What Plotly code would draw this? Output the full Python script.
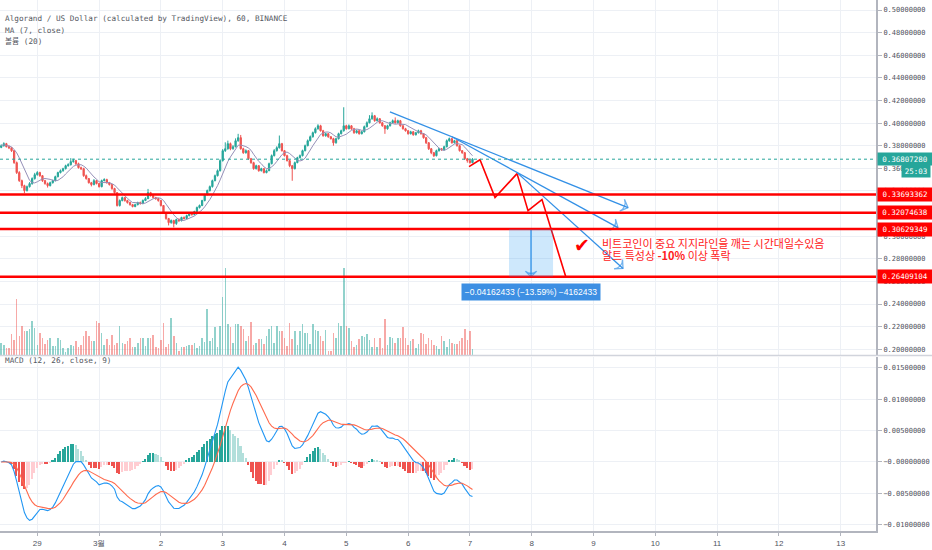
import numpy as np
import pandas as pd
import plotly.graph_objects as go

# ALGO/USD 60분봉 (Binance) - 차트에서 읽은 값
start = '2020-02-28 10:00'
first_open = 0.3785
close = [0.3800, 0.3818, 0.3791, 0.3782, 0.3756, 0.3650, 0.3562, 0.3491, 0.3447, 0.3403, 0.3438, 0.3465,
         0.3509, 0.3544, 0.3562, 0.3535, 0.3491, 0.3465, 0.3447, 0.3473, 0.3491, 0.3526, 0.3562, 0.3579,
         0.3597, 0.3623, 0.3632, 0.3659, 0.3668, 0.3641, 0.3606, 0.3597, 0.3535, 0.3509, 0.3473, 0.3456,
         0.3491, 0.3465, 0.3438, 0.3491, 0.3500, 0.3473, 0.3456, 0.3421, 0.3385, 0.3271, 0.3315, 0.3341,
         0.3315, 0.3297, 0.3279, 0.3262, 0.3279, 0.3297, 0.3288, 0.3315, 0.3332, 0.3385, 0.3359, 0.3341,
         0.3332, 0.3315, 0.3271, 0.3209, 0.3156, 0.3120, 0.3138, 0.3112, 0.3147, 0.3138, 0.3165, 0.3156,
         0.3182, 0.3200, 0.3191, 0.3218, 0.3253, 0.3271, 0.3315, 0.3368, 0.3403, 0.3438, 0.3491, 0.3535,
         0.3579, 0.3668, 0.3756, 0.3773, 0.3818, 0.3773, 0.3791, 0.3844, 0.3871, 0.3773, 0.3738, 0.3756,
         0.3685, 0.3650, 0.3597, 0.3623, 0.3579, 0.3597, 0.3562, 0.3579, 0.3641, 0.3712, 0.3756, 0.3782,
         0.3818, 0.3756, 0.3712, 0.3668, 0.3623, 0.3597, 0.3650, 0.3694, 0.3712, 0.3756, 0.3800, 0.3844,
         0.3879, 0.3915, 0.3950, 0.3976, 0.3932, 0.3888, 0.3906, 0.3879, 0.3862, 0.3826, 0.3862, 0.3906,
         0.3932, 0.3976, 0.3950, 0.3976, 0.3950, 0.3915, 0.3932, 0.3906, 0.3923, 0.3968, 0.4003, 0.4038,
         0.4065, 0.4021, 0.4038, 0.4003, 0.3976, 0.3950, 0.3976, 0.4003, 0.4021, 0.4003, 0.4021, 0.3976,
         0.3950, 0.3932, 0.3906, 0.3923, 0.3897, 0.3915, 0.3932, 0.3906, 0.3871, 0.3826, 0.3773, 0.3738,
         0.3712, 0.3756, 0.3773, 0.3765, 0.3791, 0.3844, 0.3862, 0.3826, 0.3844, 0.3800, 0.3756, 0.3738,
         0.3685, 0.3668, 0.3650, 0.3681]
high = [0.3812, 0.3830, 0.3825, 0.3805, 0.3790, 0.3762, 0.3660, 0.3575, 0.3500, 0.3455, 0.3448, 0.3478,
        0.3520, 0.3560, 0.3575, 0.3570, 0.3540, 0.3498, 0.3475, 0.3482, 0.3500, 0.3535, 0.3570, 0.3590,
        0.3605, 0.3632, 0.3645, 0.3690, 0.3685, 0.3675, 0.3650, 0.3615, 0.3605, 0.3545, 0.3515, 0.3480,
        0.3505, 0.3498, 0.3472, 0.3500, 0.3512, 0.3508, 0.3480, 0.3462, 0.3428, 0.3390, 0.3325, 0.3350,
        0.3348, 0.3322, 0.3305, 0.3285, 0.3288, 0.3305, 0.3306, 0.3325, 0.3345, 0.3418, 0.3392, 0.3365,
        0.3348, 0.3338, 0.3320, 0.3276, 0.3214, 0.3162, 0.3148, 0.3145, 0.3155, 0.3158, 0.3172, 0.3175,
        0.3190, 0.3208, 0.3210, 0.3225, 0.3262, 0.3280, 0.3322, 0.3375, 0.3412, 0.3448, 0.3500, 0.3545,
        0.3590, 0.3680, 0.3770, 0.3830, 0.3845, 0.3828, 0.3805, 0.3865, 0.3905, 0.3895, 0.3782, 0.3768,
        0.3762, 0.3692, 0.3658, 0.3632, 0.3628, 0.3605, 0.3602, 0.3590, 0.3650, 0.3722, 0.3770, 0.3795,
        0.3890, 0.3825, 0.3762, 0.3720, 0.3675, 0.3630, 0.3660, 0.3702, 0.3722, 0.3765, 0.3810, 0.3855,
        0.3890, 0.3925, 0.3962, 0.3990, 0.3985, 0.3940, 0.3915, 0.3912, 0.3885, 0.3870, 0.3870, 0.3915,
        0.3942, 0.4140, 0.3985, 0.3988, 0.3982, 0.3958, 0.3942, 0.3940, 0.3932, 0.3978, 0.4015, 0.4070,
        0.4095, 0.4072, 0.4050, 0.4045, 0.4010, 0.3982, 0.3985, 0.4012, 0.4032, 0.4050, 0.4030, 0.4028,
        0.3982, 0.3958, 0.3938, 0.3932, 0.3930, 0.3922, 0.3942, 0.3940, 0.3912, 0.3878, 0.3832, 0.3780,
        0.3745, 0.3765, 0.3782, 0.3780, 0.3800, 0.3855, 0.3872, 0.3868, 0.3852, 0.3850, 0.3808, 0.3762,
        0.3745, 0.3692, 0.3685, 0.3690]
low = [0.3778, 0.3792, 0.3785, 0.3770, 0.3745, 0.3640, 0.3550, 0.3480, 0.3425, 0.3380, 0.3395, 0.3430,
       0.3455, 0.3500, 0.3535, 0.3525, 0.3480, 0.3455, 0.3430, 0.3440, 0.3465, 0.3485, 0.3520, 0.3555,
       0.3570, 0.3590, 0.3615, 0.3625, 0.3650, 0.3630, 0.3598, 0.3585, 0.3525, 0.3500, 0.3465, 0.3440,
       0.3450, 0.3458, 0.3430, 0.3432, 0.3485, 0.3465, 0.3448, 0.3410, 0.3375, 0.3262, 0.3262, 0.3308,
       0.3305, 0.3288, 0.3270, 0.3255, 0.3256, 0.3272, 0.3280, 0.3283, 0.3310, 0.3328, 0.3350, 0.3332,
       0.3322, 0.3305, 0.3262, 0.3198, 0.3145, 0.3095, 0.3110, 0.3078, 0.3100, 0.3125, 0.3130, 0.3148,
       0.3150, 0.3175, 0.3182, 0.3185, 0.3212, 0.3245, 0.3265, 0.3308, 0.3360, 0.3395, 0.3430, 0.3485,
       0.3528, 0.3572, 0.3660, 0.3745, 0.3765, 0.3760, 0.3765, 0.3785, 0.3835, 0.3765, 0.3728, 0.3730,
       0.3675, 0.3640, 0.3588, 0.3590, 0.3570, 0.3572, 0.3555, 0.3556, 0.3575, 0.3635, 0.3705, 0.3748,
       0.3775, 0.3748, 0.3705, 0.3660, 0.3610, 0.3490, 0.3590, 0.3645, 0.3688, 0.3705, 0.3750, 0.3795,
       0.3838, 0.3872, 0.3908, 0.3942, 0.3925, 0.3880, 0.3880, 0.3870, 0.3855, 0.3800, 0.3818, 0.3855,
       0.3900, 0.3925, 0.3942, 0.3945, 0.3940, 0.3905, 0.3908, 0.3898, 0.3900, 0.3918, 0.3962, 0.3998,
       0.4030, 0.4012, 0.4015, 0.3995, 0.3968, 0.3905, 0.3942, 0.3970, 0.3998, 0.3995, 0.3996, 0.3968,
       0.3942, 0.3925, 0.3898, 0.3900, 0.3888, 0.3890, 0.3908, 0.3898, 0.3862, 0.3815, 0.3762, 0.3725,
       0.3700, 0.3705, 0.3748, 0.3755, 0.3758, 0.3785, 0.3835, 0.3818, 0.3820, 0.3792, 0.3748, 0.3728,
       0.3675, 0.3650, 0.3642, 0.3645]
volume = [37, 30, 22, 22, 62, 44, 167, 57, 87, 72, 72, 77,
          102, 80, 30, 67, 50, 34, 44, 52, 27, 27, 52, 44,
          22, 9, 22, 30, 27, 42, 24, 30, 57, 72, 57, 42,
          42, 102, 97, 67, 30, 47, 30, 60, 30, 37, 87, 37,
          34, 42, 52, 24, 24, 37, 52, 50, 27, 50, 52, 60,
          24, 22, 44, 97, 24, 32, 112, 57, 37, 12, 24, 24,
          27, 30, 30, 37, 20, 27, 50, 40, 137, 42, 52, 84,
          24, 87, 174, 260, 94, 84, 37, 94, 92, 87, 77, 42,
          57, 100, 30, 37, 47, 47, 32, 57, 77, 87, 37, 87,
          72, 72, 52, 27, 97, 47, 72, 30, 72, 92, 67, 67,
          32, 94, 74, 72, 57, 42, 74, 12, 12, 67, 52, 97,
          87, 262, 87, 82, 42, 24, 30, 47, 57, 54, 64, 44,
          24, 50, 24, 50, 22, 107, 30, 54, 52, 37, 52, 52,
          84, 50, 30, 42, 47, 22, 34, 67, 62, 32, 50, 44,
          30, 27, 17, 57, 42, 24, 47, 37, 34, 32, 42, 52,
          77, 44, 72, 17]

# 수평 지지선 / 현재가
levels = [0.33693362, 0.32074638, 0.30629349, 0.26409104]
last_price = 0.36807280
countdown = '25:03'

# 예상 경로 (빨간 지그재그)
zig_t = ['2020-03-06 23:40', '2020-03-07 03:55', '2020-03-07 09:45', '2020-03-07 18:18',
         '2020-03-07 22:34', '2020-03-08 03:59', '2020-03-08 13:19']
zig_p = [0.3615, 0.3676, 0.3341, 0.3553, 0.3226, 0.3324, 0.2635]

# 하락 추세선 (파란 화살표)
trend_lines = [
    (['2020-03-05 16:57', '2020-03-09 13:23'], [0.4100, 0.3253]),
    (['2020-03-06 17:01', '2020-03-09 09:30'], [0.3879, 0.3076]),
    (['2020-03-07 18:17', '2020-03-09 11:27'], [0.3562, 0.2715]),
]

# 가격 범위 측정
measure_t = ['2020-03-07 15:11', '2020-03-08 08:17']
measure_mid = '2020-03-07 23:44'
measure_label = '\u22120.04162433 (\u221213.59%) \u22124162433'

day_ticks = pd.date_range('2020-02-29', '2020-03-13', freq='D')
day_labels = ['29', '3월', '2', '3', '4', '5', '6', '7', '8', '9', '10', '11', '12', '13']
x_range = ['2020-02-28 09:31', '2020-03-13 13:42']

note_line1 = '비트코인이 중요 지지라인을 깨는 시간대일수있음'
note_line2 = '알트 특성상 <b>-10%</b> 이상 폭락'

# 색상
UP = '#26a69a'
DOWN = '#ef5350'
GRID = '#edf0f5'
AXIS = '#b2b5be'
TXT = '#50535e'
BLUE = '#3390e6'
MONO = 'DejaVu Sans Mono, Noto Sans CJK KR'

times = pd.date_range(start, periods=len(close), freq='h')
opens = [first_open] + close[:-1]
up = [c >= o for o, c in zip(opens, close)]

# 지표
s = pd.Series(close)
ma7 = s.rolling(7, min_periods=1).mean()
macd = s.ewm(span=12, adjust=False).mean() - s.ewm(span=26, adjust=False).mean()
signal = macd.ewm(span=9, adjust=False).mean()
hist = (macd - signal).tolist()
hist_colors = []
for i, h in enumerate(hist):
    prev = hist[i - 1] if i > 0 else 0
    if h >= 0:
        hist_colors.append('#26a69a' if h >= prev else '#b2dfdb')
    else:
        hist_colors.append('#ffcdd2' if h >= prev else '#ef5350')

bar_w = 0.6 * 3600 * 1000

fig = go.Figure()

# 볼륨
fig.add_trace(go.Bar(x=times, y=volume, width=bar_w, xaxis='x', yaxis='y3',
                     marker=dict(color=['rgba(38,166,154,0.5)' if u else 'rgba(239,83,80,0.5)' for u in up],
                                 line=dict(width=0))))

# 캔들
fig.add_trace(go.Candlestick(x=times, open=opens, high=high, low=low, close=close,
                             xaxis='x', yaxis='y', whiskerwidth=0,
                             increasing=dict(line=dict(color=UP, width=1), fillcolor=UP),
                             decreasing=dict(line=dict(color=DOWN, width=1), fillcolor=DOWN)))
fig.add_trace(go.Scatter(x=times, y=ma7, mode='lines', xaxis='x', yaxis='y',
                         line=dict(color='#9590b8', width=1)))

# 지그재그 예상 경로
fig.add_trace(go.Scatter(x=zig_t, y=zig_p, mode='lines', xaxis='x', yaxis='y',
                         line=dict(color='#ff0000', width=1.6)))

# 추세선 + 화살표
for tx, py in trend_lines:
    fig.add_trace(go.Scatter(x=tx, y=py, mode='lines+markers', xaxis='x', yaxis='y',
                             line=dict(color=BLUE, width=1.3),
                             marker=dict(symbol='arrow-wide-open', size=[0, 9], angleref='previous',
                                         color=BLUE, line=dict(color=BLUE, width=1.3))))

# 측정 화살표
fig.add_trace(go.Scatter(x=[measure_mid, measure_mid], y=[levels[2], levels[3]], mode='lines+markers',
                         xaxis='x', yaxis='y', line=dict(color=BLUE, width=1.3),
                         marker=dict(symbol='arrow-wide-open', size=[0, 8], angleref='previous',
                                     color=BLUE, line=dict(color=BLUE, width=1.3))))

# MACD
fig.add_trace(go.Bar(x=times, y=hist, width=bar_w, xaxis='x2', yaxis='y2',
                     marker=dict(color=hist_colors, line=dict(width=0))))
fig.add_trace(go.Scatter(x=times, y=macd, mode='lines', xaxis='x2', yaxis='y2',
                         line=dict(color='#2196f3', width=1.1)))
fig.add_trace(go.Scatter(x=times, y=signal, mode='lines', xaxis='x2', yaxis='y2',
                         line=dict(color='#ff6a4d', width=1.1)))

# 수평선
for lv in levels:
    fig.add_shape(type='line', xref='paper', x0=0, x1=1, yref='y', y0=lv, y1=lv,
                  line=dict(color='#ff0000', width=2.5))
    fig.add_annotation(xref='paper', x=1, xanchor='left', xshift=1, yref='y', y=lv,
                       text=f'{lv:.8f}', showarrow=False, bgcolor='#ff0000', width=52, height=11,
                       borderpad=1, font=dict(family=MONO, size=7.5, color='white'))

fig.add_shape(type='line', xref='paper', x0=0, x1=1, yref='y', y0=last_price, y1=last_price,
              line=dict(color=UP, width=1, dash='dot'))
fig.add_annotation(xref='paper', x=1, xanchor='left', xshift=1, yref='y', y=last_price,
                   text=f'{last_price:.8f}', showarrow=False, bgcolor=UP, width=52, height=10,
                   borderpad=1, font=dict(family=MONO, size=7.5, color='white'))
fig.add_annotation(xref='paper', x=1, xanchor='left', xshift=25, yref='y', y=last_price, yshift=-12,
                   text=countdown, showarrow=False, bgcolor=UP, width=26, height=10,
                   borderpad=1, font=dict(family=MONO, size=7.5, color='white'))

# 측정 박스
fig.add_shape(type='rect', xref='x', yref='y', x0=measure_t[0], x1=measure_t[1],
              y0=levels[3], y1=levels[2], fillcolor='rgba(33,150,243,0.22)', line=dict(width=0))
fig.add_annotation(xref='x', yref='y', x=measure_mid, y=levels[3], yshift=-15, showarrow=False,
                   text=measure_label, bgcolor='#3d8fe3', width=136, height=14, borderpad=1,
                   font=dict(family='Liberation Sans', size=8.5, color='white'))

# 메모
fig.add_annotation(xref='x', yref='y', x='2020-03-08 19:30', y=0.2926, showarrow=False,
                   text='✔', font=dict(family='DejaVu Sans', size=19, color='#ff0000'))
fig.add_annotation(xref='x', yref='y', x='2020-03-09 02:31', y=0.2937, xanchor='left', showarrow=False,
                   text=note_line1, font=dict(family='Noto Sans CJK KR', size=11, color='#ff2020'))
fig.add_annotation(xref='x', yref='y', x='2020-03-09 02:31', y=0.2831, xanchor='left', showarrow=False,
                   text=note_line2, font=dict(family='Noto Sans CJK KR', size=11, color='#ff2020'))

# 범례 텍스트
legend_lines = ['Algorand / US Dollar (calculated by TradingView), 60, BINANCE', 'MA (7, close)', '볼륨 (20)']
for k, t in enumerate(legend_lines):
    fig.add_annotation(xref='paper', yref='paper', x=0, y=1 - (12 + 11.5 * k) / 531, xanchor='left',
                       xshift=3, showarrow=False, text=t,
                       font=dict(family=MONO, size=7.7, color='#555861'))
fig.add_annotation(xref='paper', yref='paper', x=0, y=(531 - 367) / 531, xanchor='left', xshift=3,
                   showarrow=False, text='MACD (12, 26, close, 9)',
                   font=dict(family=MONO, size=7.7, color='#555861'))

# 패널 구분선
fig.add_shape(type='line', xref='paper', yref='paper', x0=0, x1=1.064, y0=0.3305, y1=0.3305,
              line=dict(color='#d1d4dc', width=1.5))

fig.update_layout(
    width=932, height=550,
    margin=dict(l=0, r=56, t=0, b=19),
    paper_bgcolor='white', plot_bgcolor='white',
    showlegend=False,
    bargap=0,
    xaxis=dict(domain=[0, 1], anchor='y', type='date', range=x_range, tickvals=day_ticks,
               ticktext=day_labels, showticklabels=False, showgrid=True, gridcolor=GRID,
               zeroline=False, rangeslider=dict(visible=False)),
    xaxis2=dict(domain=[0, 1], anchor='y2', type='date', range=x_range, matches='x', tickvals=day_ticks,
                ticktext=day_labels, showgrid=True, gridcolor=GRID, zeroline=False,
                showline=True, linecolor=AXIS, linewidth=2, ticks='outside', ticklen=3, tickcolor=AXIS,
                tickfont=dict(family='Liberation Sans', size=8, color=TXT)),
    yaxis=dict(domain=[0.3315, 1], anchor='x', side='right', range=[0.19496, 0.50884],
               tick0=0, dtick=0.02, tickformat='.8f', showgrid=True, gridcolor=GRID, zeroline=False,
               showline=True, linecolor=AXIS, linewidth=2, ticks='outside', ticklen=4, tickcolor=AXIS,
               tickfont=dict(family=MONO, size=7, color=TXT)),
    yaxis2=dict(domain=[0, 0.3277], anchor='x2', side='right', range=[-0.01099, 0.01672],
                tickvals=[0.015, 0.01, 0.005, 0, -0.005, -0.01],
                ticktext=['0.01500000', '0.01000000', '0.00500000', '\u22120.00000000',
                          '\u22120.00500000', '\u22120.01000000'],
                showgrid=True, gridcolor=GRID, zeroline=False,
                showline=True, linecolor=AXIS, linewidth=2, ticks='outside', ticklen=4, tickcolor=AXIS,
                tickfont=dict(family=MONO, size=7, color=TXT)),
    yaxis3=dict(domain=[0.3315, 1], anchor='x', overlaying='y', range=[0, 1065], visible=False),
)

# 페이지 기본 여백 제거 (932x550 창에 딱 맞게)
fig.write_html('out.html', config={'displayModeBar': False},
               post_script="document.body.style.margin='0px';document.body.style.overflow='hidden';")
